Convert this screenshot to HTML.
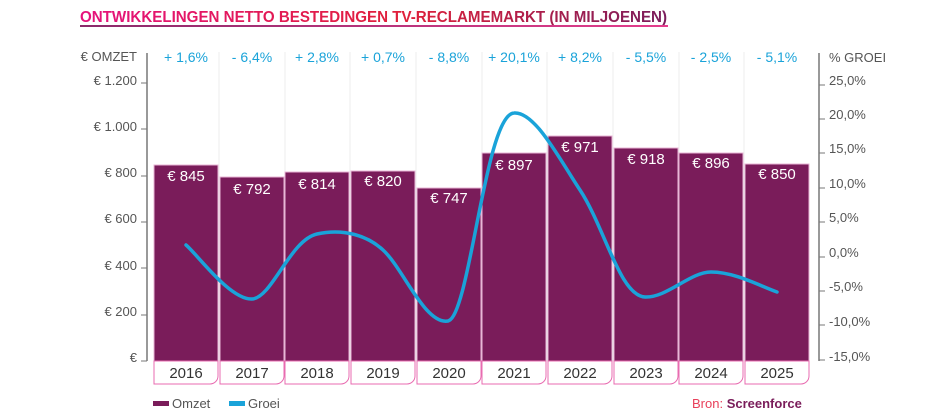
<!DOCTYPE html>
<html><head><meta charset="utf-8"><style>
html,body{margin:0;padding:0;background:#fff;width:944px;height:420px;overflow:hidden}
svg{display:block;font-family:"Liberation Sans",sans-serif}
</style></head><body>
<svg width="944" height="420" viewBox="0 0 944 420" xmlns="http://www.w3.org/2000/svg">
<defs>
<linearGradient id="tg" x1="0" x2="1" y1="0" y2="0">
<stop offset="0" stop-color="#e5127d"/><stop offset="0.55" stop-color="#e0203a"/><stop offset="1" stop-color="#7a1d5c"/>
</linearGradient>
<linearGradient id="ug" x1="0" x2="1"><stop offset="0" stop-color="#8a2a6a"/><stop offset="1" stop-color="#e43c8c"/></linearGradient>
</defs>
<text x="80" y="22" font-size="15.5" font-weight="bold" fill="url(#tg)" textLength="587" lengthAdjust="spacingAndGlyphs">ONTWIKKELINGEN NETTO BESTEDINGEN TV-RECLAMEMARKT (IN MILJOENEN)</text>
<rect x="80" y="25" width="588" height="2" fill="url(#ug)"/>
<g stroke="#eeeeee" stroke-width="1">
<line x1="219" y1="52" x2="219" y2="361"/><line x1="285" y1="52" x2="285" y2="361"/><line x1="350" y1="52" x2="350" y2="361"/><line x1="416" y1="52" x2="416" y2="361"/><line x1="482" y1="52" x2="482" y2="361"/><line x1="547" y1="52" x2="547" y2="361"/><line x1="613" y1="52" x2="613" y2="361"/><line x1="679" y1="52" x2="679" y2="361"/><line x1="744" y1="52" x2="744" y2="361"/>
</g>
<line x1="147" y1="53" x2="147" y2="361" stroke="#999" stroke-width="2"/>
<line x1="819" y1="53" x2="819" y2="361" stroke="#999" stroke-width="2"/>
<g font-size="13" fill="#555" text-anchor="end">
<text x="137" y="61">€ OMZET</text>
<text x="137" y="85">€ 1.200</text><text x="137" y="131">€ 1.000</text><text x="137" y="177">€ 800</text><text x="137" y="223">€ 600</text><text x="137" y="270">€ 400</text><text x="137" y="316">€ 200</text><text x="137" y="362">€</text>
</g>
<g stroke="#777" stroke-width="1">
<line x1="141" y1="83" x2="147" y2="83"/><line x1="141" y1="129" x2="147" y2="129"/><line x1="141" y1="176" x2="147" y2="176"/><line x1="141" y1="222" x2="147" y2="222"/><line x1="141" y1="268" x2="147" y2="268"/><line x1="141" y1="315" x2="147" y2="315"/><line x1="141" y1="361" x2="147" y2="361"/>
<line x1="819" y1="85" x2="825" y2="85"/><line x1="819" y1="119" x2="825" y2="119"/><line x1="819" y1="153" x2="825" y2="153"/><line x1="819" y1="188" x2="825" y2="188"/><line x1="819" y1="222" x2="825" y2="222"/><line x1="819" y1="257" x2="825" y2="257"/><line x1="819" y1="291" x2="825" y2="291"/><line x1="819" y1="325" x2="825" y2="325"/><line x1="819" y1="360" x2="825" y2="360"/>
</g>
<g font-size="13" fill="#555">
<text x="829" y="62">% GROEI</text>
<text x="829" y="85">25,0%</text><text x="829" y="119">20,0%</text><text x="829" y="153">15,0%</text><text x="829" y="188">10,0%</text><text x="829" y="222">5,0%</text><text x="829" y="257">0,0%</text><text x="829" y="291">-5,0%</text><text x="829" y="326">-10,0%</text><text x="829" y="361">-15,0%</text>
</g>
<g font-size="14" fill="#1aa3d9" text-anchor="middle">
<text x="186" y="62">+ 1,6%</text><text x="252" y="62">- 6,4%</text><text x="317" y="62">+ 2,8%</text><text x="383" y="62">+ 0,7%</text><text x="449" y="62">- 8,8%</text><text x="514" y="62">+ 20,1%</text><text x="580" y="62">+ 8,2%</text><text x="646" y="62">- 5,5%</text><text x="711" y="62">- 2,5%</text><text x="777" y="62">- 5,1%</text>
</g>
<g fill="#7a1c5a" stroke="#e8b6d6" stroke-width="1">
<rect x="154" y="165" width="64" height="196"/>
<rect x="220" y="177" width="64" height="184"/>
<rect x="285" y="172" width="64" height="189"/>
<rect x="351" y="171" width="64" height="190"/>
<rect x="417" y="188" width="64" height="173"/>
<rect x="482" y="153" width="64" height="208"/>
<rect x="548" y="136" width="64" height="225"/>
<rect x="614" y="148" width="64" height="213"/>
<rect x="679" y="153" width="64" height="208"/>
<rect x="745" y="164" width="64" height="197"/>
</g>
<g font-size="15" fill="#fff" text-anchor="middle">
<text x="186" y="181">€ 845</text><text x="252" y="194">€ 792</text><text x="317" y="189">€ 814</text><text x="383" y="186">€ 820</text><text x="449" y="203">€ 747</text><text x="514" y="170">€ 897</text><text x="580" y="152">€ 971</text><text x="646" y="164">€ 918</text><text x="711" y="168">€ 896</text><text x="777" y="179">€ 850</text>
</g>
<path d="M186,245 C197,254 230,300 252,299 C272,298 290,240 317,234 C344,228 368,236 383,250 C403,268 425,325 448,321 C470,316 485,115 514,113 C535,111 560,160 580,190 C605,228 620,296 645,297 C667,298 690,272 711,272 C735,272 760,286 777,292" fill="none" stroke="#1aa3d9" stroke-width="3.5" stroke-linecap="round"/>
<g fill="#fff" stroke="#e86bb0" stroke-width="1">
<path d="M154,361 h64 v15 a8,8 0 0 1 -8,8 h-56 z"/>
<path d="M220,361 h64 v15 a8,8 0 0 1 -8,8 h-56 z"/>
<path d="M285,361 h64 v15 a8,8 0 0 1 -8,8 h-56 z"/>
<path d="M351,361 h64 v15 a8,8 0 0 1 -8,8 h-56 z"/>
<path d="M417,361 h64 v15 a8,8 0 0 1 -8,8 h-56 z"/>
<path d="M482,361 h64 v15 a8,8 0 0 1 -8,8 h-56 z"/>
<path d="M548,361 h64 v15 a8,8 0 0 1 -8,8 h-56 z"/>
<path d="M614,361 h64 v15 a8,8 0 0 1 -8,8 h-56 z"/>
<path d="M679,361 h64 v15 a8,8 0 0 1 -8,8 h-56 z"/>
<path d="M745,361 h64 v15 a8,8 0 0 1 -8,8 h-56 z"/>
</g>
<g font-size="15" fill="#333" text-anchor="middle">
<text x="186" y="378">2016</text><text x="252" y="378">2017</text><text x="317" y="378">2018</text><text x="383" y="378">2019</text><text x="449" y="378">2020</text><text x="514" y="378">2021</text><text x="580" y="378">2022</text><text x="646" y="378">2023</text><text x="711" y="378">2024</text><text x="777" y="378">2025</text>
</g>
<rect x="153" y="401" width="16" height="5" fill="#7a1c5a"/>
<text x="172" y="408" font-size="13" fill="#555">Omzet</text>
<rect x="229" y="401" width="16" height="5" fill="#1aa3d9"/>
<text x="248" y="408" font-size="13" fill="#555">Groei</text>
<text x="692" y="408" font-size="13" fill="#e8405a">Bron: <tspan fill="#7a1c5a" font-weight="bold">Screenforce</tspan></text>
</svg>
</body></html>
